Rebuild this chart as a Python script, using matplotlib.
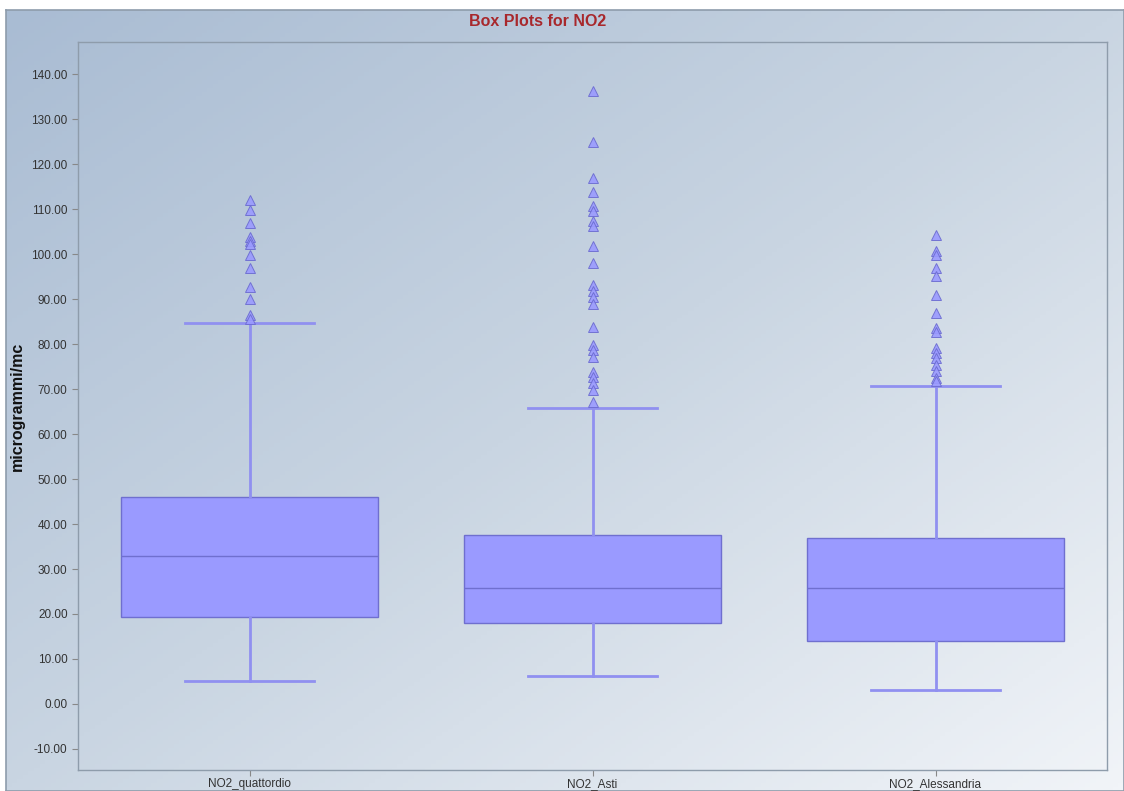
import numpy as np
import matplotlib
matplotlib.use("Agg")
import matplotlib.pyplot as plt
from matplotlib.colors import LinearSegmentedColormap

# data
names = ["NO2_quattordio", "NO2_Asti", "NO2_Alessandria"]
q1 = [19.4, 18.0, 13.9]
med = [32.9, 25.8, 25.8]
q3 = [46.0, 37.5, 37.0]
whis_lo = [5.1, 6.2, 3.0]
whis_hi = [84.8, 65.8, 70.7]
out_quattordio = [112.0, 109.9, 107.0, 103.9, 102.9, 102.2, 99.9, 96.9, 92.8, 90.0, 86.5, 85.6]
out_asti = [136.2, 125.0, 116.9, 113.8, 110.7, 109.6, 107.4, 106.2, 101.9, 98.1, 93.2, 91.8,
            90.6, 89.0, 83.9, 79.9, 78.7, 77.2, 73.9, 72.8, 71.3, 69.8, 67.2]
out_alessandria = [104.2, 100.7, 99.9, 97.0, 95.1, 91.0, 86.9, 83.6, 82.8, 79.1, 78.0, 76.9,
                   75.4, 74.0, 72.4, 71.8]
outliers = [out_quattordio, out_asti, out_alessandria]

plt.rcParams['font.family'] = ['Liberation Sans', 'DejaVu Sans']

fig = plt.figure(figsize=(11.24, 7.91), dpi=100)
fig.patch.set_facecolor('white')

# gradient background panel (dark top-left -> light bottom-right)
bg = fig.add_axes([6/1124, 0, 1 - 6/1124, 1 - 10/791], zorder=-10)
gx, gy = np.meshgrid(np.linspace(0, 1, 200), np.linspace(0, 1, 200))
grad = (gx + gy) / 2
cmap = LinearSegmentedColormap.from_list('bg', ['#a9bcd3', '#c9d5e2', '#f1f4f8'])
bg.imshow(grad, cmap=cmap, aspect='auto', extent=[0, 1, 0, 1], origin='upper')
bg.set_xticks([])
bg.set_yticks([])
for s in bg.spines.values():
    s.set_color('#8e9cab')
    s.set_linewidth(1.2)

ax = fig.add_axes([78/1124, 1 - 770/791, (1107 - 78)/1124, (770 - 42)/791])
ax.set_facecolor('none')

stats = []
for i in range(3):
    stats.append(dict(med=med[i], q1=q1[i], q3=q3[i], whislo=whis_lo[i],
                      whishi=whis_hi[i], fliers=outliers[i], label=names[i]))

ax.bxp(stats, positions=[1, 2, 3], widths=0.75, patch_artist=True,
       boxprops=dict(facecolor='#9a9aff', edgecolor='#6f6fcf', linewidth=1.0),
       medianprops=dict(color='#6f6fcf', linewidth=1.0),
       whiskerprops=dict(color='#9090f0', linewidth=2.0),
       capprops=dict(color='#9090f0', linewidth=2.0),
       flierprops=dict(marker='^', markersize=7, markerfacecolor='#9a9aff',
                       markeredgecolor='#6b6bd0', markeredgewidth=0.7, alpha=0.9))

ax.set_xlim(0.5, 3.5)
ax.set_ylim(-14.7, 147.2)
ax.set_yticks(np.arange(-10, 141, 10))
ax.yaxis.set_major_formatter(matplotlib.ticker.FormatStrFormatter('%.2f'))
ax.tick_params(axis='both', labelsize=8.5, colors='#888888', labelcolor='#333333',
               length=4, width=0.8, direction='out')
ax.tick_params(axis='x', pad=1.5)
for s in ax.spines.values():
    s.set_color('#8e9cab')
    s.set_linewidth(1.0)

ax.set_ylabel('microgrammi/mc', fontsize=11.5, fontweight='bold', color='#111111')
ax.yaxis.set_label_coords(-0.052, 0.5)
fig.text(538/1124, 1 - 22/791, 'Box Plots for NO2', ha='center', va='center',
         fontsize=11.5, fontweight='bold', color='#a8282c')

fig.savefig('out.png', dpi=100)
